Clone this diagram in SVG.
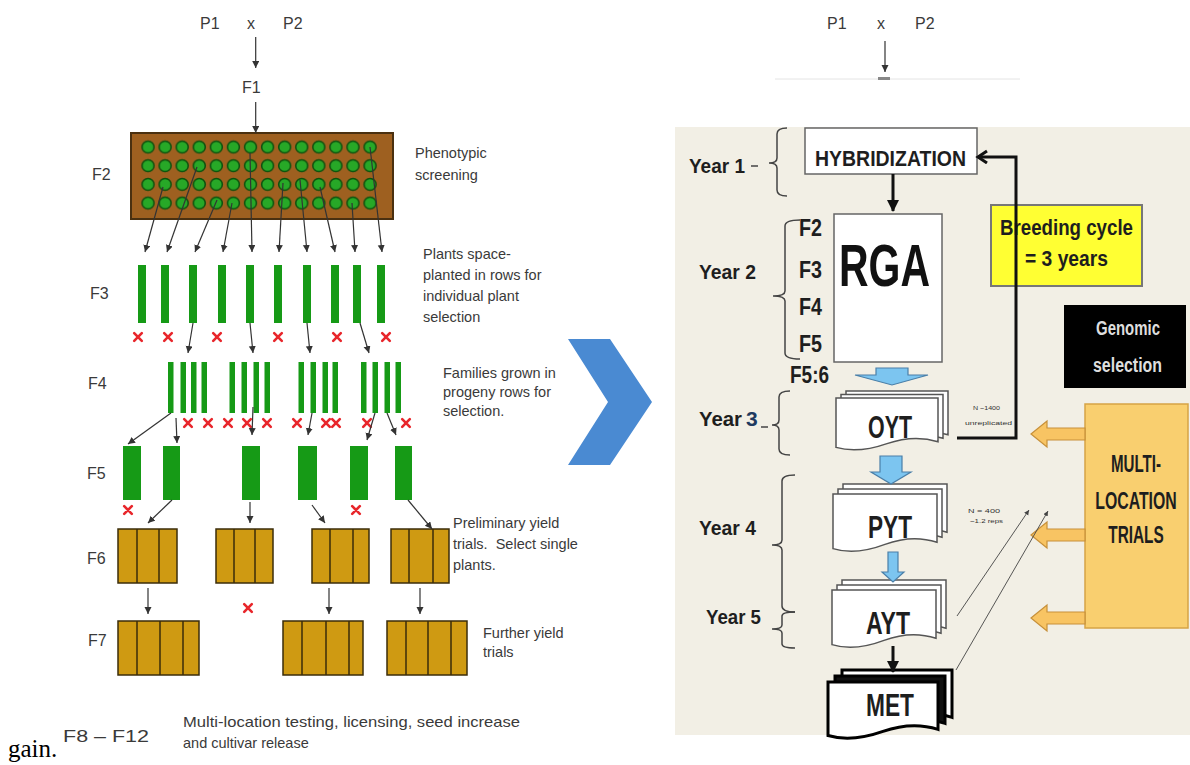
<svg xmlns="http://www.w3.org/2000/svg" xmlns:xlink="http://www.w3.org/1999/xlink" width="1190" height="765" viewBox="0 0 1190 765">
<style>
.lt{font-family:"Liberation Sans",Arial,sans-serif;fill:#3a3a3a}
.big{font-size:16px}
.desc{font-size:14.5px}
.rb{font-family:"Liberation Sans Narrow","Liberation Sans",Arial,sans-serif;font-weight:bold;fill:#1e1e1e}
.bar{fill:#169a16}
.plot{fill:#cf9a12;stroke:#3b2d0a;stroke-width:1.5}
.div{stroke:#3b2d0a;stroke-width:1.5}
.ln{stroke:#333;stroke-width:1.2;fill:none}
.brace{stroke:#444;stroke-width:1.5;fill:none}
.card{fill:#fff;stroke:#555;stroke-width:1.5}
.blue{fill:#7cc5f0;stroke:#4a7fa8;stroke-width:1.2}
.orng{fill:#f8c463;stroke:#c7903a;stroke-width:1.2}
</style>
<defs>
<marker id="ah" markerUnits="userSpaceOnUse" markerWidth="8" markerHeight="8" refX="7" refY="3.5" orient="auto"><path d="M0,0 L7,3.5 L0,7 Z" fill="#333"/></marker>
<marker id="ahB" markerUnits="userSpaceOnUse" markerWidth="14" markerHeight="14" refX="11" refY="6" orient="auto"><path d="M0,0 L12,6 L0,12 Z" fill="#111"/></marker>
<marker id="ahO" markerUnits="userSpaceOnUse" markerWidth="14" markerHeight="16" refX="10" refY="7" orient="auto"><path d="M1,1 L10,7 L1,13" fill="none" stroke="#111" stroke-width="3"/></marker>
<marker id="ahT" markerUnits="userSpaceOnUse" markerWidth="6" markerHeight="6" refX="5" refY="2.5" orient="auto"><path d="M0,0 L5,2.5 L0,5 Z" fill="#444"/></marker>
<g id="rx"><path d="M-3.8,-3.8 L3.8,3.8 M3.8,-3.8 L-3.8,3.8" stroke="#e8262b" stroke-width="2.6" stroke-linecap="round"/></g>
<pattern id="dots" patternUnits="userSpaceOnUse" x="139.5" y="137.7" width="17.08" height="18.67"><circle cx="8.54" cy="9.33" r="6" fill="#27a827" stroke="#0c4f0c" stroke-width="1.5"/></pattern>
<path id="card" d="M0,0 H100 V46 C82,40 66,42 50,48 C34,54 16,57 0,52 Z" vector-effect="non-scaling-stroke"/>
<path id="oarr" d="M0,0 L16,-13 L16,-6 L54,-6 L54,6 L16,6 L16,13 Z"/>
</defs>

<rect width="1190" height="765" fill="#fff"/>

<!-- LEFT PANEL -->
<g id="left-header">
<text class="lt big" x="200" y="29">P1</text>
<text class="lt big" x="247" y="29">x</text>
<text class="lt big" x="283" y="29">P2</text>
<text class="lt big" x="242" y="93">F1</text>
</g>

<g id="gen-labels">
<text class="lt big" x="92" y="180">F2</text>
<text class="lt big" x="90" y="299">F3</text>
<text class="lt big" x="88" y="389">F4</text>
<text class="lt big" x="87" y="479">F5</text>
<text class="lt big" x="87" y="564">F6</text>
<text class="lt big" x="88" y="646">F7</text>
</g>

<g id="f2-plot">
<rect x="131" y="133" width="262" height="86" fill="#9e6020" stroke="#4a3010" stroke-width="2"/>
<rect x="139.5" y="137.7" width="239.1" height="74.7" fill="url(#dots)"/>
</g>

<g id="f3-rows">
<rect class="bar" x="138" y="265" width="8" height="58"/>
<rect class="bar" x="161" y="265" width="8" height="58"/>
<rect class="bar" x="189" y="265" width="8" height="58"/>
<rect class="bar" x="218" y="265" width="8" height="58"/>
<rect class="bar" x="246" y="265" width="8" height="58"/>
<rect class="bar" x="274" y="265" width="8" height="58"/>
<rect class="bar" x="303" y="265" width="8" height="58"/>
<rect class="bar" x="331" y="265" width="8" height="58"/>
<rect class="bar" x="353" y="265" width="8" height="58"/>
<rect class="bar" x="377" y="265" width="8" height="58"/>
</g>

<g id="f4-rows">
<rect class="bar" x="168" y="362" width="5.5" height="51"/>
<rect class="bar" x="180.5" y="362" width="5.5" height="51"/>
<rect class="bar" x="191" y="362" width="5.5" height="51"/>
<rect class="bar" x="201.5" y="362" width="5.5" height="51"/>
<rect class="bar" x="229.5" y="362" width="5.5" height="51"/>
<rect class="bar" x="241.5" y="362" width="5.5" height="51"/>
<rect class="bar" x="253.5" y="362" width="5.5" height="51"/>
<rect class="bar" x="264.5" y="362" width="5.5" height="51"/>
<rect class="bar" x="298.5" y="362" width="5.5" height="51"/>
<rect class="bar" x="310.5" y="362" width="5.5" height="51"/>
<rect class="bar" x="322.5" y="362" width="5.5" height="51"/>
<rect class="bar" x="332.5" y="362" width="5.5" height="51"/>
<rect class="bar" x="361" y="362" width="5.5" height="51"/>
<rect class="bar" x="372.5" y="362" width="5.5" height="51"/>
<rect class="bar" x="384.5" y="362" width="5.5" height="51"/>
<rect class="bar" x="395.5" y="362" width="5.5" height="51"/>
</g>

<g id="f5-rows">
<rect class="bar" x="123" y="446" width="18" height="54"/>
<rect class="bar" x="163" y="446" width="17" height="54"/>
<rect class="bar" x="242" y="446" width="18" height="54"/>
<rect class="bar" x="298" y="446" width="19" height="54"/>
<rect class="bar" x="350" y="446" width="18" height="54"/>
<rect class="bar" x="395" y="446" width="17" height="54"/>
</g>

<g id="f6-plots">
<rect class="plot" x="118" y="529" width="59" height="54"/><path class="div" d="M137,529V583M159,529V583"/>
<rect class="plot" x="216" y="529" width="57" height="54"/><path class="div" d="M234,529V583M255,529V583"/>
<rect class="plot" x="312" y="529" width="57" height="54"/><path class="div" d="M330,529V583M353,529V583"/>
<rect class="plot" x="391" y="529" width="58" height="54"/><path class="div" d="M409,529V583M433,529V583"/>
</g>

<g id="f7-plots">
<rect class="plot" x="118" y="621" width="81" height="54"/><path class="div" d="M137,621V675M160,621V675M183,621V675"/>
<rect class="plot" x="283" y="621" width="80" height="54"/><path class="div" d="M302,621V675M326,621V675M349,621V675"/>
<rect class="plot" x="387" y="621" width="80" height="54"/><path class="div" d="M406,621V675M428,621V675M451,621V675"/>
</g>

<g id="rejects">
<use href="#rx" x="138" y="337"/><use href="#rx" x="168" y="337"/><use href="#rx" x="217" y="337"/>
<use href="#rx" x="278" y="337"/><use href="#rx" x="337" y="337"/><use href="#rx" x="386" y="337"/>
<use href="#rx" x="188" y="423"/><use href="#rx" x="208" y="423"/><use href="#rx" x="228" y="423"/>
<use href="#rx" x="247" y="423"/><use href="#rx" x="267" y="423"/><use href="#rx" x="297" y="423"/>
<use href="#rx" x="326" y="423"/><use href="#rx" x="336" y="423"/><use href="#rx" x="367" y="423"/>
<use href="#rx" x="406" y="423"/>
<use href="#rx" x="128" y="510"/><use href="#rx" x="356" y="510"/>
<use href="#rx" x="248" y="608"/>
</g>

<g id="left-connectors" class="ln" marker-end="url(#ah)">
<path d="M255.7,37V68"/>
<path d="M255.7,102V133"/>
<path d="M163,187L145,252"/>
<path d="M197,167L167,252"/>
<path d="M217,200L195,252"/>
<path d="M232,203L223,252"/>
<path d="M250,153L252,252"/>
<path d="M283,183L279,252"/>
<path d="M300,180L307,252"/>
<path d="M320,187L335,252"/>
<path d="M352,203L355,252"/>
<path d="M370,147L382,252"/>
<path d="M193,323L188,353"/>
<path d="M250,323L253,353"/>
<path d="M307,323L310,353"/>
<path d="M360,323L369,353"/>
<path d="M171,413L128,444"/>
<path d="M176,418L177,443"/>
<path d="M253,407L252,435"/>
<path d="M312,413L308,435"/>
<path d="M375,413L367,440"/>
<path d="M387,413L396,435"/>
<path d="M172,500L148,523"/>
<path d="M250,502L250,523"/>
<path d="M312,505L325,523"/>
<path d="M408,500L432,529"/>
<path d="M148,588V614"/>
<path d="M329,588V614"/>
<path d="M420,588V614"/>
</g>

<g id="left-notes" class="lt desc">
<text x="415" y="158">Phenotypic</text>
<text x="415" y="180">screening</text>
<text x="423" y="259">Plants space-</text>
<text x="423" y="280">planted in rows for</text>
<text x="423" y="301">individual plant</text>
<text x="423" y="322">selection</text>
<text x="443" y="378">Families grown in</text>
<text x="443" y="397">progeny rows for</text>
<text x="443" y="416">selection.</text>
<text x="453" y="528">Preliminary yield</text>
<text x="453" y="549" style="white-space:pre">trials.  Select single</text>
<text x="453" y="570">plants.</text>
<text x="483" y="638">Further yield</text>
<text x="483" y="657">trials</text>
<text x="183" y="727" textLength="337" lengthAdjust="spacingAndGlyphs">Multi-location testing, licensing, seed increase</text>
<text x="183" y="748">and cultivar release</text>
</g>
<text x="8" y="757" font-family="'Liberation Serif','Times New Roman',serif" font-size="25" fill="#000">gain.</text>
<text class="lt" x="63" y="742" font-size="16" textLength="86" lengthAdjust="spacingAndGlyphs">F8 – F12</text>

<!-- CHEVRON -->
<g id="chevron"><polygon points="568,339 610,339 652,402 610,465 568,465 608,402" fill="#4a8ad2"/></g>

<!-- RIGHT PANEL -->
<g id="right-header">
<text class="lt big" x="827" y="29" fill="#555">P1</text>
<text class="lt big" x="877" y="29">x</text>
<text class="lt big" x="915" y="29">P2</text>
<path d="M885,41V72" class="ln" marker-end="url(#ah)"/>
<path d="M775,79H1020" stroke="#e4e4e4" stroke-width="1"/>
<rect x="878" y="77" width="12" height="3" fill="#888"/>
</g>
<rect id="panel" x="675" y="127" width="515" height="608" fill="#f2efe5"/>

<g id="year-labels" class="rb" font-size="21">
<text x="689" y="173" textLength="56" lengthAdjust="spacingAndGlyphs">Year 1</text>
<text x="699" y="279" textLength="57" lengthAdjust="spacingAndGlyphs">Year 2</text>
<text x="699" y="426" textLength="43" lengthAdjust="spacingAndGlyphs">Year</text>
<text x="746" y="426" style="fill:#1f3a60">3</text>
<text x="699" y="535" textLength="57" lengthAdjust="spacingAndGlyphs">Year 4</text>
<text x="706" y="624" textLength="55" lengthAdjust="spacingAndGlyphs">Year 5</text>
</g>

<g id="braces" class="brace">
<path d="M751,166H758"/>
<path d="M787,128 Q777,128 777,134 V158 Q777,163 769,163 Q777,163 777,168 V190 Q777,196 787,196"/>
<path d="M800,220 Q785,220 785,226 V291 Q785,296 773,296 Q785,296 785,301 V353 Q785,359 800,359"/>
<path d="M761,427H768"/>
<path d="M790,391 Q779,391 779,397 V420 Q779,425 772,425 Q779,425 779,430 V449 Q779,455 790,455"/>
<path d="M795,475 Q782,475 782,481 V540 Q782,545 772,545 Q782,545 782,550 V606 Q782,612 795,612"/>
<path d="M795,612 Q782,612 782,616 V625 Q782,629 772,629 Q782,629 782,633 V644 Q782,648 795,648"/>
</g>

<g id="gen-f-labels" class="rb" font-size="23">
<text x="799" y="236" textLength="23" lengthAdjust="spacingAndGlyphs">F2</text>
<text x="799" y="278" textLength="23" lengthAdjust="spacingAndGlyphs">F3</text>
<text x="799" y="315" textLength="23" lengthAdjust="spacingAndGlyphs">F4</text>
<text x="799" y="352" textLength="23" lengthAdjust="spacingAndGlyphs">F5</text>
<text x="790" y="383" textLength="39" lengthAdjust="spacingAndGlyphs">F5:6</text>
</g>

<g id="hybridization">
<rect x="805" y="128" width="172" height="46" fill="#fff" stroke="#666" stroke-width="1.5"/>
<text class="rb" x="815" y="166" font-size="22" textLength="151" lengthAdjust="spacingAndGlyphs">HYBRIDIZATION</text>
</g>

<g id="rga">
<rect x="834" y="214" width="108" height="148" fill="#fff" stroke="#666" stroke-width="1.5"/>
<text class="rb" x="839" y="286" font-size="60" style="fill:#111" textLength="91" lengthAdjust="spacingAndGlyphs">RGA</text>
</g>

<g id="breeding-cycle">
<rect x="991" y="205" width="151" height="81" fill="#ffff33" stroke="#777" stroke-width="2"/>
<text class="rb" x="1000" y="235" font-size="22" textLength="133" lengthAdjust="spacingAndGlyphs">Breeding cycle</text>
<text class="rb" x="1025" y="266" font-size="22" textLength="83" lengthAdjust="spacingAndGlyphs">= 3 years</text>
</g>

<g id="genomic-selection">
<rect x="1064" y="305" width="122" height="83" fill="#000"/>
<text class="rb" x="1096" y="335" font-size="20" style="fill:#dedede" textLength="64" lengthAdjust="spacingAndGlyphs">Genomic</text>
<text class="rb" x="1093" y="372" font-size="20" style="fill:#dedede" textLength="69" lengthAdjust="spacingAndGlyphs">selection</text>
</g>

<g id="multi-location">
<rect x="1085" y="404" width="103" height="224" fill="#f9cf6f" stroke="#d6a445" stroke-width="1.5"/>
<text class="rb" font-size="24" text-anchor="middle" transform="translate(1136,472) scale(0.63,1)">MULTI-</text>
<text class="rb" font-size="24" text-anchor="middle" transform="translate(1136,509) scale(0.66,1)">LOCATION</text>
<text class="rb" font-size="24" text-anchor="middle" transform="translate(1136,543) scale(0.64,1)">TRIALS</text>
</g>

<g id="oyt">
<use href="#card" class="card" transform="translate(846,391) scale(1.02,0.95)"/>
<use href="#card" class="card" transform="translate(841,394.5) scale(1.02,0.95)"/>
<use href="#card" class="card" transform="translate(836,398) scale(1.02,0.95)"/>
<text class="rb" x="868" y="438" font-size="31" textLength="44" lengthAdjust="spacingAndGlyphs">OYT</text>
</g>

<g id="pyt">
<use href="#card" class="card" transform="translate(843,484) scale(1.04,1.05)"/>
<use href="#card" class="card" transform="translate(838,489) scale(1.04,1.05)"/>
<use href="#card" class="card" transform="translate(833,494) scale(1.04,1.05)"/>
<text class="rb" x="868" y="538" font-size="31" textLength="44" lengthAdjust="spacingAndGlyphs">PYT</text>
</g>

<g id="ayt">
<use href="#card" class="card" transform="translate(842,580) scale(1.04,1.05)"/>
<use href="#card" class="card" transform="translate(837,585) scale(1.04,1.05)"/>
<use href="#card" class="card" transform="translate(832,590) scale(1.04,1.05)"/>
<text class="rb" x="866" y="634" font-size="31" textLength="44" lengthAdjust="spacingAndGlyphs">AYT</text>
</g>

<g id="met">
<use href="#card" transform="translate(842,670) scale(1.1,1.03)" style="fill:#fff;stroke:#000;stroke-width:3"/>
<use href="#card" transform="translate(835,676) scale(1.1,1.03)" style="fill:#111;stroke:#000;stroke-width:3"/>
<use href="#card" transform="translate(828,682) scale(1.1,1.03)" style="fill:#fff;stroke:#000;stroke-width:3"/>
<text class="rb" x="866" y="716" font-size="31" textLength="48" lengthAdjust="spacingAndGlyphs">MET</text>
</g>

<g id="right-connectors">
<path d="M893,174V211" stroke="#111" stroke-width="3" fill="none" marker-end="url(#ahB)"/>
<path d="M893,646V672" stroke="#111" stroke-width="3" fill="none" marker-end="url(#ahB)"/>
<path d="M957,438H1016V157H978" stroke="#111" stroke-width="3" fill="none" marker-end="url(#ahO)"/>
<path class="blue" d="M876,368H908V375H928L892,385L855,375H876Z"/>
<path class="blue" d="M880,456H902V472H911L891,484L871,472H880Z"/>
<path class="blue" d="M888,552H898V572H904L893,582L882,572H888Z"/>
<use href="#oarr" class="orng" transform="translate(1031,434)"/>
<use href="#oarr" class="orng" transform="translate(1031,535)"/>
<use href="#oarr" class="orng" transform="translate(1031,618)"/>
<path d="M957,616L1029,510" stroke="#444" stroke-width="0.9" fill="none" marker-end="url(#ahT)"/>
<path d="M956,670L1048,511" stroke="#444" stroke-width="0.9" fill="none" marker-end="url(#ahT)"/>
</g>

<g id="small-notes" font-family="'Liberation Sans',Arial,sans-serif" font-size="6" fill="#333">
<text x="973" y="410" textLength="27" lengthAdjust="spacingAndGlyphs">N ~1400</text>
<text x="965" y="425" textLength="47" lengthAdjust="spacingAndGlyphs">unreplicated</text>
<text x="968" y="513" textLength="32" lengthAdjust="spacingAndGlyphs">N = 400</text>
<text x="970" y="523" textLength="33" lengthAdjust="spacingAndGlyphs">~1.2 reps</text>
</g>
</svg>
